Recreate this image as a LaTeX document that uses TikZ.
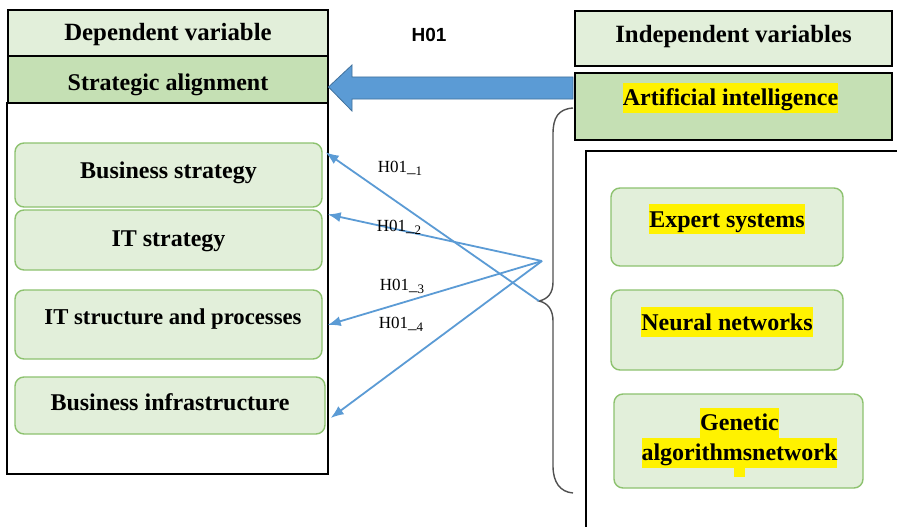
\documentclass[tikz,border=0pt]{standalone}
\usepackage{fontspec}
\setmainfont{Liberation Serif}
\newfontfamily\arialfont{Liberation Sans}
\usetikzlibrary{arrows.meta,calc}
\definecolor{lightg}{HTML}{E2EFDA}
\definecolor{midg}{HTML}{C5E0B4}
\definecolor{gborder}{HTML}{8DC26F}
\definecolor{blueA}{HTML}{5B9BD5}
\definecolor{blueB}{HTML}{41719C}
\definecolor{bracec}{HTML}{505050}
\newcommand\hlt[1]{{\setlength{\fboxsep}{0pt}\colorbox{yellow}{\rule[-7pt]{0pt}{30pt}#1}}}
\newcommand\hlab[1]{H01\_\raisebox{-3pt}{\fontsize{13}{13}\selectfont #1}}
\tikzset{
  hdr/.style={draw=black, line width=1.4pt, inner sep=0pt},
  gbox/.style={draw=gborder, fill=lightg, line width=1.4pt, rounded corners=9pt, inner sep=0pt},
  lbl/.style={font=\fontsize{24}{30}\selectfont\bfseries, inner sep=0pt, text height=16pt, text depth=0pt},
  hlbl/.style={font=\fontsize{24.8}{30}\selectfont\bfseries, inner sep=0pt, text height=16pt, text depth=0pt},
  lbl2/.style={font=\fontsize{24}{30}\selectfont\bfseries, inner sep=0pt, align=center},
  hyp/.style={font=\fontsize{17}{20}\selectfont, inner sep=0pt},
  thinarrow/.style={draw=blueA, line width=1.8pt, -{Latex[length=13pt,width=10pt]}},
  bracestyle/.style={draw=bracec, line width=1.4pt}
}
\begin{document}
\begin{tikzpicture}[x=1pt,y=-1pt]
\useasboundingbox (0,0) rectangle (897,527);
\fill[white] (0,0) rectangle (897,527);

% left column
\node[hdr, fill=white, minimum width=321pt, minimum height=371pt] (lbox) at (167.5,288.5) {};
\node[hdr, fill=lightg, minimum width=320pt, minimum height=46pt] (dv) at (168,33) {};
\node[hlbl] (dvt) at (dv.center) {Dependent variable};
\node[hdr, fill=midg, minimum width=320pt, minimum height=47pt] (sa) at (168,79.5) {};
\node[lbl, yshift=-2.5pt] (sat) at (sa.center) {Strategic alignment};

\node[gbox, minimum width=307pt, minimum height=64pt,
      label={[lbl, yshift=5pt]center:Business strategy}] (bs) at (168.5,175) {};
\node[gbox, minimum width=307pt, minimum height=60pt,
      label={[lbl, yshift=2pt]center:IT strategy}] (its) at (168.5,240) {};
\node[gbox, minimum width=307pt, minimum height=69pt,
      label={[lbl, font=\fontsize{22.7}{28}\selectfont\bfseries, yshift=8.5pt, xshift=4.5pt]center:IT structure and processes}] (isp) at (168.5,324.5) {};
\node[gbox, minimum width=310pt, minimum height=57pt,
      label={[lbl, yshift=3.5pt]center:Business infrastructure}] (bi) at (170,405.5) {};

% top label
\node[font=\arialfont\fontsize{19}{22}\selectfont\bfseries, inner sep=0pt] (h01) at (429,35) {H01};

% right column
\node[hdr, fill=lightg, minimum width=317pt, minimum height=55pt] (iv) at (733.5,38.5) {};
\node[hlbl, yshift=3.5pt] (ivt) at (iv.center) {Independent variables};
\node[hdr, fill=midg, minimum width=317pt, minimum height=67pt,
      label={[lbl, yshift=9pt, xshift=-3pt]center:\hlt{Artificial intelligence}}] (ai) at (733.5,106.5) {};
\draw[black, line width=1.4pt] (586,530) -- (586,151) -- (900,151);

\node[gbox, minimum width=232pt, minimum height=78pt,
      label={[lbl, yshift=8pt]center:\hlt{Expert systems}}] (es) at (727,227) {};
\node[gbox, minimum width=232pt, minimum height=80pt,
      label={[lbl, yshift=8pt]center:\hlt{Neural networks}}] (nn) at (727,330) {};
\node[gbox, minimum width=249pt, minimum height=94pt,
      label={[lbl2, yshift=3.5pt, xshift=1pt]center:\hlt{Genetic}\\\hlt{algorithmsnetwork}}] (ga) at (738.5,441) {};
\fill[yellow] (734,468) rectangle (745,477);

% big blue arrow
\draw[fill=blueA, draw=blueB, line width=0.8pt, line join=miter]
  (573,77) -- (352,77) -- (352,65) -- (328.5,87) -- (352,111) -- (352,99) -- (573,99) -- cycle;

% brace
\draw[bracestyle] (573,108) .. controls (558,109) and (553,118) .. (553,134)
  -- (553,282) .. controls (553,293) and (548,299) .. (539,301)
  .. controls (548,303) and (553,310) .. (553,321)
  -- (553,466) .. controls (553,482) and (560,492) .. (573,493);

% hubs
\coordinate (tip) at (539,301);
\coordinate (hub) at (542,261);

% thin arrows
\draw[thinarrow] (tip) -- ([xshift=3pt, yshift=-10pt]bs.north east);
\draw[thinarrow] (hub) -- ([xshift=5pt, yshift=-5pt]its.north east);
\draw[thinarrow] (hub) -- ([xshift=5pt, yshift=-0.5pt]isp.east);
\draw[thinarrow] (hub) -- ([xshift=5pt, yshift=-12.5pt]bi.east);

% hypothesis labels
\node[hyp] (l1) at (400,168) {\hlab{1}};
\node[hyp] (l2) at (399,227) {\hlab{2}};
\node[hyp] (l3) at (402,286) {\hlab{3}};
\node[hyp] (l4) at (401,324) {\hlab{4}};
\end{tikzpicture}
\end{document}
